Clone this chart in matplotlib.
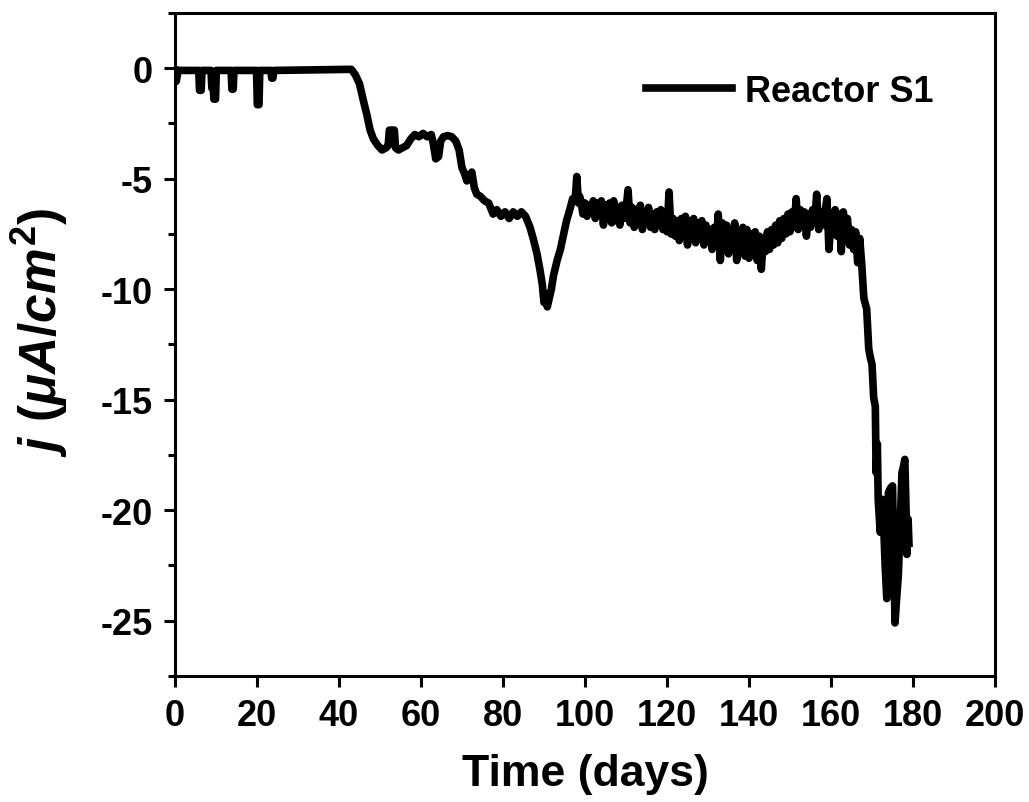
import matplotlib
matplotlib.use("Agg")
import matplotlib.pyplot as plt
from matplotlib.ticker import MultipleLocator

plt.rcParams['font.family'] = ['Liberation Sans', 'DejaVu Sans']
plt.rcParams['font.weight'] = 'bold'
plt.rcParams['axes.unicode_minus'] = False
plt.rcParams['mathtext.fontset'] = 'custom'
plt.rcParams['mathtext.it'] = 'Liberation Sans:bold:italic'
plt.rcParams['mathtext.rm'] = 'Liberation Sans'
plt.rcParams['mathtext.bf'] = 'Liberation Sans:bold'

series_label = "Reactor S1"
x_label = "Time (days)"
y_label = r"$j\ \mathrm{(}\mu A/cm^{2}\mathrm{)}$"
x_ticks = [0, 20, 40, 60, 80, 100, 120, 140, 160, 180, 200]
y_ticks = [0, -5, -10, -15, -20, -25]

# Start-up period with short downward spikes
time_startup = [0.0, 0.3, 0.8, 5.8, 6.0, 6.4, 6.6, 8.8, 9.0, 9.2, 9.5, 9.9,
                10.1, 13.7, 13.9, 14.2, 14.4, 19.9, 20.1, 20.5, 20.7, 23.4,
                23.6, 23.9, 24.1, 43.0]
j_startup = [-0.1, -0.6, -0.1, -0.1, -1.0, -1.0, -0.1, -0.1, -0.9, -0.2, -1.4, -1.4,
             -0.1, -0.1, -0.95, -0.95, -0.1, -0.1, -1.65, -1.65, -0.1, -0.1,
             -0.45, -0.45, -0.1, -0.05]

# First decline, plateau and dip near day 90
time_mid = [44.0, 45.0, 46.0, 46.8, 47.6, 48.4, 49.5, 50.5, 51.5, 52.0, 52.3,
            53.5, 53.8, 54.5, 55.5, 56.5, 57.5, 58.5, 59.5, 60.5, 61.5, 62.5,
            63.0, 63.6, 64.3, 64.8, 65.5, 66.5, 67.5, 68.5, 69.3, 70.0, 70.7,
            71.2, 71.8, 72.4, 73.0, 73.6, 74.5, 75.5, 76.5, 77.6, 78.5, 79.5,
            80.5, 81.5, 82.5, 83.5, 84.5, 85.5, 86.6, 87.5, 88.3, 89.0, 89.6,
            90.0, 90.4, 90.8, 91.3, 91.8, 92.3, 93.2, 94.0, 94.8, 95.5, 96.3,
            97.0, 97.6, 98.0, 98.4, 98.7]
j_mid = [-0.3, -0.7, -1.5, -2.1, -2.8, -3.2, -3.5, -3.7, -3.6, -3.5, -2.8,
         -2.8, -3.6, -3.7, -3.6, -3.5, -3.2, -3.0, -3.1, -2.95, -3.1, -3.0,
         -3.4, -4.1, -4.0, -3.3, -3.1, -3.05, -3.1, -3.3, -3.7, -4.5, -4.8,
         -5.1, -4.9, -4.7, -5.4, -5.7, -5.8, -6.0, -6.1, -6.6, -6.4, -6.7,
         -6.5, -6.8, -6.5, -6.7, -6.5, -6.7, -7.2, -7.8, -8.4, -9.1, -9.8,
         -10.6, -10.2, -10.8, -10.4, -10.0, -9.4, -8.7, -8.2, -7.5, -6.9, -6.4,
         -5.9, -6.0, -4.9, -6.1, -5.8]

# Noisy plateau, day 99 to 167.5
time_plateau = [99.0, 99.5, 100.0, 100.5, 101.0, 101.5, 102.0, 102.5, 103.0, 103.5,
                104.0, 104.5, 105.0, 105.5, 106.0, 106.5, 107.0, 107.5, 108.0, 108.5,
                109.0, 109.5, 110.0, 110.5, 111.0, 111.5, 112.0, 112.5, 113.0, 113.5,
                114.0, 114.5, 115.0, 115.5, 116.0, 116.5, 117.0, 117.5, 118.0, 118.5,
                119.0, 119.5, 120.0, 120.5, 121.0, 121.5, 122.0, 122.5, 123.0, 123.5,
                124.0, 124.5, 125.0, 125.5, 126.0, 126.5, 127.0, 127.5, 128.0, 128.5,
                129.0, 129.5, 130.0, 130.5, 131.0, 131.5, 132.0, 132.5, 133.0, 133.5,
                134.0, 134.5, 135.0, 135.5, 136.0, 136.5, 137.0, 137.5, 138.0, 138.5,
                139.0, 139.5, 140.0, 140.5, 141.0, 141.5, 142.0, 142.5, 143.0, 143.5,
                144.0, 144.5, 145.0, 145.5, 146.0, 146.5, 147.0, 147.5, 148.0, 148.5,
                149.0, 149.5, 150.0, 150.5, 151.0, 151.5, 152.0, 152.5, 153.0, 153.5,
                154.0, 154.5, 155.0, 155.5, 156.0, 156.5, 157.0, 157.5, 158.0, 158.5,
                159.0, 159.5, 160.0, 160.5, 161.0, 161.5, 162.0, 162.5, 163.0, 163.5,
                164.0, 164.5, 165.0, 165.5, 166.0, 166.5, 167.0, 167.5]
j_plateau = [-6.0, -6.6, -6.1, -6.7, -6.2, -6.5, -6.0, -6.8, -6.1, -6.6,
             -6.0, -7.1, -6.2, -6.8, -6.1, -7.0, -6.0, -6.9, -6.3, -7.1,
             -6.2, -6.8, -6.4, -5.5, -7.0, -6.3, -7.2, -6.4, -6.9, -6.2,
             -7.3, -6.5, -7.0, -6.3, -7.2, -6.6, -7.3, -6.5, -7.1, -6.4,
             -7.3, -6.7, -7.4, -5.6, -7.5, -6.8, -7.6, -6.9, -7.8, -6.8,
             -7.5, -6.7, -8.0, -6.9, -7.7, -6.8, -7.9, -7.0, -7.6, -6.9,
             -8.0, -7.1, -7.7, -7.3, -8.2, -7.2, -8.0, -6.6, -8.7, -7.0,
             -8.1, -7.1, -8.4, -7.3, -8.2, -7.0, -8.7, -7.4, -8.3, -7.2,
             -8.5, -7.3, -8.6, -7.5, -8.4, -7.4, -8.7, -7.6, -9.1, -7.7,
             -8.3, -7.4, -8.2, -7.3, -8.0, -7.1, -7.9, -6.9, -7.7, -6.8,
             -7.5, -6.6, -7.4, -6.5, -7.2, -5.9, -7.3, -6.4, -7.1, -6.5,
             -7.6, -6.6, -7.2, -6.4, -7.0, -5.7, -7.3, -6.5, -7.1, -6.6,
             -5.9, -8.2, -6.9, -7.4, -6.4, -7.6, -6.6, -8.3, -6.5, -7.5,
             -6.8, -8.0, -7.3, -8.2, -7.4, -8.8, -7.7, -8.9]

# Final sharp decline and oscillations
time_final = [168.0, 168.7, 169.2, 169.6, 170.0, 170.4, 170.8, 171.0, 171.3, 171.5,
              172.0, 172.4, 172.8, 173.2, 173.6, 174.0, 174.5, 175.0, 175.3, 175.6,
              176.0, 176.4, 176.9, 177.3, 177.7, 178.0, 178.3, 178.5, 178.8, 179.0]
j_final = [-10.4, -10.9, -12.7, -13.1, -13.4, -14.9, -15.3, -18.3, -17.0, -19.5,
           -21.0, -19.5, -20.5, -22.5, -24.0, -19.2, -19.0, -18.9, -22.0, -25.1,
           -24.0, -23.0, -20.5, -18.3, -18.0, -17.7, -20.0, -22.0, -20.4, -21.5]

time_days = time_startup + time_mid + time_plateau + time_final
current_density = j_startup + j_mid + j_plateau + j_final

fig = plt.figure(figsize=(10.29, 8.03), dpi=100)
ax = fig.add_axes([0.170, 0.157, 0.797, 0.8256])

ax.plot(time_days, current_density, color='black', lw=5.5, label=series_label,
        solid_joinstyle='round')

ax.set_xlim(0, 200)
ax.set_ylim(-27.5, 2.5)
ax.set_xticks(x_ticks)
ax.set_yticks(y_ticks)
ax.yaxis.set_minor_locator(MultipleLocator(2.5))

for s in ax.spines.values():
    s.set_linewidth(2.2)

ax.tick_params(axis='both', which='major', direction='out', length=8, width=2.2,
               labelsize=26, pad=8)
ax.tick_params(axis='y', which='minor', direction='out', length=5, width=2.2)
ax.tick_params(axis='x', which='minor', length=0)
for lbl in ax.get_xticklabels() + ax.get_yticklabels():
    lbl.set_fontweight('bold')

ax.set_xlabel(x_label, fontsize=32, fontweight='bold', labelpad=14)
ax.set_ylabel(y_label, fontsize=37)
ax.yaxis.set_label_coords(-0.128, 0.52)

leg = ax.legend(loc='center right', bbox_to_anchor=(0.925, 0.882), frameon=False,
                fontsize=26, handlelength=2.4, handletextpad=0.35,
                borderpad=0, borderaxespad=0)
for t in leg.get_texts():
    t.set_fontweight('bold')

fig.savefig('out.png', dpi=100)
